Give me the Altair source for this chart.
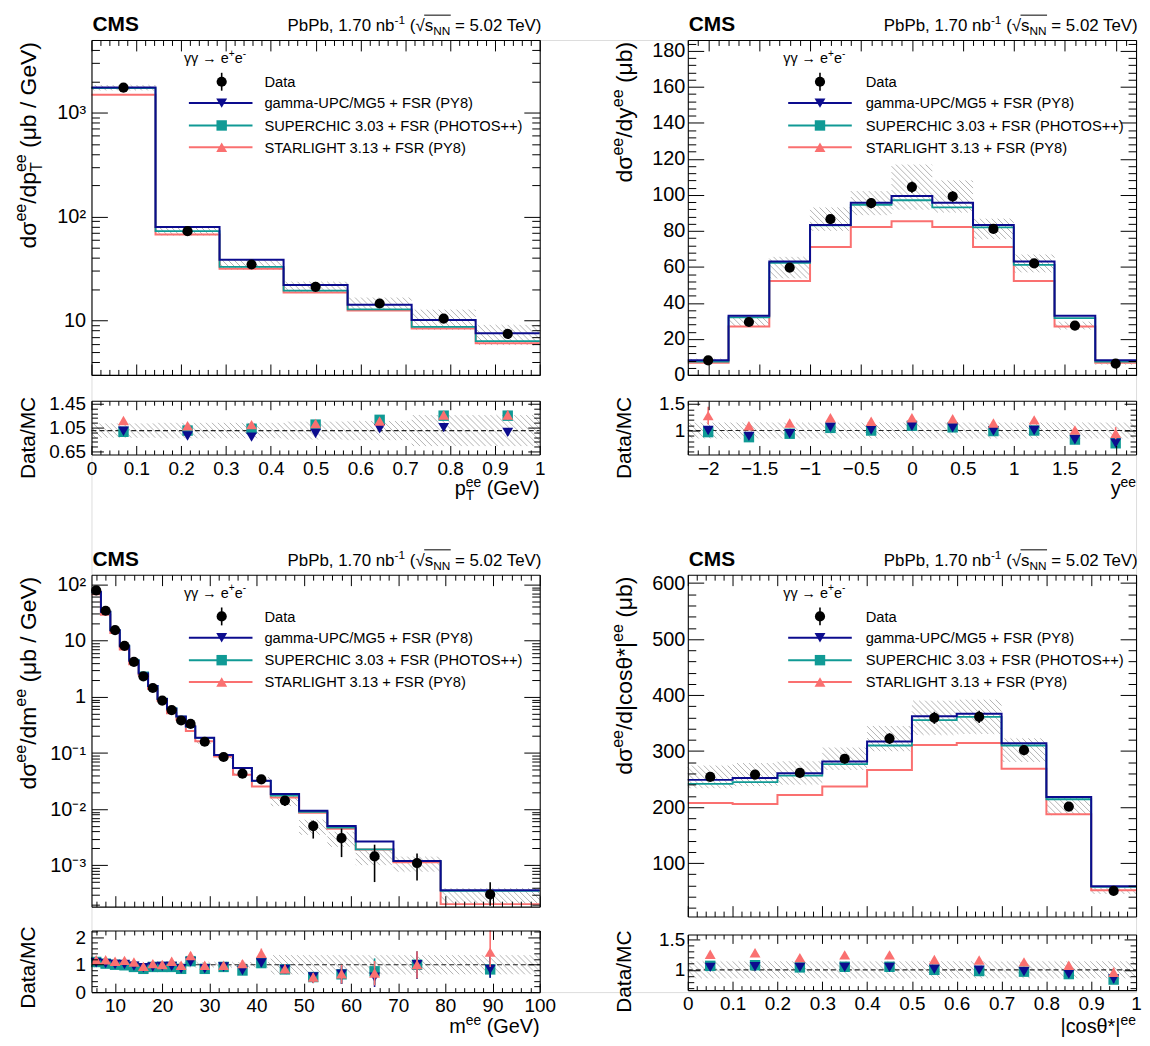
import math
import altair as alt
import pandas as pd

# ---------------- data: (a) pT ----------------
pt_edges = [0.0, 0.142857, 0.285714, 0.428571, 0.571429, 0.714286, 0.857143, 1.0]
pt_centers = [0.0714, 0.2143, 0.3571, 0.5, 0.6429, 0.7857, 0.9286]
pt_data = [1740, 72.4, 34.6, 21.1, 14.6, 10.45, 7.45]
pt_err = [0.02, 0.03, 0.03, 0.03, 0.04, 0.05, 0.06]
pt_gupc = [1742, 79.3, 38.4, 22.0, 14.2, 10.1, 7.55]
pt_sc = [1725, 72.4, 32.9, 19.4, 12.8, 8.69, 6.33]
pt_sl = [1490, 67.3, 31.5, 18.6, 12.5, 8.38, 6.05]
pt_unc = [0.06, 0.09, 0.11, 0.12, 0.14, 0.22, 0.22]
pt_runc = [0.12, 0.13, 0.13, 0.15, 0.16, 0.26, 0.26]
pt_r_gupc = [0.99, 0.91, 0.89, 0.95, 1.03, 1.05, 0.97]
pt_r_sc = [0.98, 1.0, 1.03, 1.10, 1.18, 1.25, 1.25]
pt_r_sl = [1.17, 1.08, 1.10, 1.12, 1.16, 1.26, 1.26]

# ---------------- data: (b) rapidity ----------------
y_edges = [-2.2, -1.8, -1.4, -1.0, -0.6, -0.2, 0.2, 0.6, 1.0, 1.4, 1.8, 2.2]
y_centers = [-2.0, -1.6, -1.2, -0.8, -0.4, 0.0, 0.4, 0.8, 1.2, 1.6, 2.0]
y_data = [8.1, 29.4, 59.6, 86.5, 95.4, 104.3, 99.1, 81.1, 61.9, 27.4, 6.3]
y_err = [0.06, 0.04, 0.03, 0.03, 0.03, 0.03, 0.03, 0.03, 0.03, 0.04, 0.07]
y_gupc = [8.1, 32.8, 63.0, 83.3, 95.6, 99.3, 95.6, 83.3, 63.0, 32.8, 8.1]
y_sc = [7.4, 31.9, 62.2, 83.0, 94.5, 97.0, 93.0, 81.9, 61.1, 31.5, 7.4]
y_sl = [6.7, 26.9, 52.2, 71.1, 82.2, 85.4, 82.2, 71.1, 52.2, 26.9, 6.7]
y_unc = [0.10, 0.08, 0.10, 0.075, 0.07, 0.12, 0.09, 0.07, 0.08, 0.08, 0.10]
y_runc = [0.15, 0.15, 0.15, 0.15, 0.15, 0.15, 0.15, 0.15, 0.15, 0.15, 0.15]
y_r_gupc = [1.0, 0.89, 0.94, 1.06, 1.01, 1.08, 1.05, 0.99, 1.0, 0.825, 0.76]
y_r_sc = [0.97, 0.875, 0.94, 1.05, 1.0, 1.09, 1.06, 0.99, 1.0, 0.83, 0.76]
y_r_sl = [1.28, 1.09, 1.14, 1.24, 1.175, 1.24, 1.22, 1.14, 1.2, 1.01, 0.95]
y_r_err = [0.13, 0.04, 0.03, 0.03, 0.03, 0.03, 0.03, 0.03, 0.03, 0.05, 0.12]

# ---------------- data: (c) mass ----------------
m_edges = [5, 7, 9, 11, 13, 15, 17, 19, 21, 23, 25, 27, 31, 35, 39, 43, 49, 55, 61, 69, 79, 100]
m_centers = [6, 8, 10, 12, 14, 16, 18, 20, 22, 24, 26, 29, 33, 37, 41, 46, 52, 58, 65, 74, 89.5]
m_data = [79, 34.2, 15.5, 8.1, 4.2, 2.32, 1.44, 0.86, 0.58, 0.38, 0.33, 0.159, 0.085, 0.043,
          0.034, 0.0142, 0.0050, 0.00305, 0.00144, 0.0011, 0.000303]
m_err_up = [0.04, 0.04, 0.05, 0.05, 0.05, 0.05, 0.06, 0.06, 0.07, 0.08, 0.08, 0.1, 0.1, 0.12,
            0.12, 0.2, 0.26, 0.48, 0.62, 0.48, 0.65]
m_err_dn = [0.04, 0.04, 0.05, 0.05, 0.05, 0.05, 0.06, 0.06, 0.07, 0.08, 0.08, 0.1, 0.1, 0.12,
            0.12, 0.2, 0.40, 0.54, 0.65, 0.51, 0.37]
m_gupc = [73.8, 32.9, 15.3, 8.0, 4.42, 2.61, 1.57, 0.915, 0.617, 0.447, 0.30, 0.187, 0.092, 0.054,
          0.032, 0.0186, 0.0094, 0.0050, 0.00266, 0.00119, 0.00036]
m_sc = [71.8, 32.9, 15.5, 8.27, 4.57, 2.73, 1.57, 0.935, 0.63, 0.447, 0.292, 0.187, 0.092, 0.054,
        0.032, 0.0175, 0.0090, 0.0047, 0.00192, 0.00119, 0.00035]
m_sl = [67, 29, 13.7, 7.0, 3.8, 2.47, 1.38, 0.85, 0.51, 0.39, 0.246, 0.162, 0.087, 0.041,
        0.0254, 0.0162, 0.0086, 0.0045, 0.00192, 0.00114, 0.000204]
m_unc = [0.06, 0.06, 0.06, 0.06, 0.06, 0.06, 0.06, 0.07, 0.07, 0.07, 0.07, 0.08, 0.08, 0.1,
         0.1, 0.2, 0.3, 0.3, 0.3, 0.3, 0.3]
m_runc = [0.1, 0.1, 0.1, 0.1, 0.1, 0.1, 0.1, 0.1, 0.1, 0.1, 0.1, 0.1, 0.1, 0.1, 0.1,
          0.35, 0.35, 0.35, 0.35, 0.35, 0.35]
m_r_gupc = [1.07, 1.04, 1.01, 1.01, 0.95, 0.89, 0.92, 0.94, 0.94, 0.85, 1.1, 0.85, 0.92, 0.79,
            1.06, 0.83, 0.55, 0.65, 0.54, 1.0, 0.83]
m_r_sc = [1.1, 1.04, 1.0, 0.98, 0.92, 0.85, 0.92, 0.92, 0.92, 0.85, 1.13, 0.85, 0.92, 0.79,
          1.06, 0.83, 0.55, 0.65, 0.76, 1.0, 0.83]
m_r_sl = [1.18, 1.18, 1.13, 1.16, 1.1, 0.94, 1.04, 1.01, 1.13, 0.98, 1.34, 0.98, 0.98, 1.04,
          1.42, 0.85, 0.55, 0.67, 0.7, 1.01, 1.46]

# ---------------- data: (d) |cos theta*| ----------------
c_edges = [0.0, 0.1, 0.2, 0.3, 0.4, 0.5, 0.6, 0.7, 0.8, 0.9, 1.0]
c_centers = [0.05, 0.15, 0.25, 0.35, 0.45, 0.55, 0.65, 0.75, 0.85, 0.95]
c_data = [253.9, 258, 261, 286.3, 322.3, 359.4, 361.2, 301.7, 201, 50.5]
c_err = [0.03, 0.03, 0.03, 0.03, 0.03, 0.03, 0.03, 0.03, 0.04, 0.08]
c_gupc = [248.6, 252.1, 260.4, 281.6, 317, 362.4, 366.5, 314, 218, 58.7]
c_sc = [241.5, 244.5, 256.3, 276.9, 310, 355.3, 361.2, 310, 214, 57.5]
c_sl = [207.3, 205.5, 221.5, 236.8, 266.3, 311, 314.6, 268.6, 187.3, 51.7]
c_unc = [0.08, 0.08, 0.08, 0.07, 0.07, 0.085, 0.085, 0.07, 0.075, 0.11]
c_runc = [0.14, 0.14, 0.14, 0.14, 0.14, 0.14, 0.14, 0.14, 0.14, 0.14]
c_r_gupc = [1.04, 1.05, 1.04, 1.04, 1.04, 1.01, 0.995, 0.97, 0.93, 0.85]
c_r_sc = [1.065, 1.076, 1.04, 1.05, 1.05, 1.0, 0.98, 0.97, 0.93, 0.84]
c_r_sl = [1.255, 1.28, 1.2, 1.245, 1.245, 1.17, 1.16, 1.13, 1.076, 0.96]

legend_labels = ["Data", "gamma-UPC/MG5 + FSR (PY8)", "SUPERCHIC 3.03 + FSR (PHOTOS++)",
                 "STARLIGHT 3.13 + FSR (PY8)"]

# ---------------- style ----------------
VW, VH = 1051, 958
FONT = "Liberation Sans"
NAVY = "#0c0c8e"
TEAL = "#109a95"
SALMON = "#fa7070"
HATCH = "#a0a0a0"

WT = {' ': .278, '!': .278, '(': .333, ')': .333, '*': .389, '+': .584, ',': .278, '-': .333,
      '.': .278, '/': .278, '=': .584, '|': .26, 'A': .667, 'B': .667, 'C': .722, 'D': .722,
      'E': .667, 'F': .611, 'G': .778, 'H': .722, 'I': .278, 'J': .5, 'K': .667, 'L': .556,
      'M': .833, 'N': .722, 'O': .778, 'P': .667, 'Q': .778, 'R': .722, 'S': .667, 'T': .611,
      'U': .722, 'V': .667, 'W': .944, 'X': .667, 'Y': .667, 'Z': .611, 'a': .556, 'b': .556,
      'c': .5, 'd': .556, 'e': .556, 'f': .278, 'g': .556, 'h': .556, 'i': .222, 'j': .222,
      'k': .5, 'l': .222, 'm': .833, 'n': .556, 'o': .556, 'p': .556, 'q': .556, 'r': .333,
      's': .5, 't': .278, 'u': .556, 'v': .5, 'w': .722, 'x': .5, 'y': .5, 'z': .5,
      'σ': .62, 'μ': .577, 'θ': .556, 'γ': .5, '√': .549, '→': 1.0}


def tw(s, fs):
    return sum(WT.get(ch, .556) for ch in s) * fs


texts = []   # normal texts
btexts = []  # bold texts
prules = []  # pixel rules


def rich(segs, fs, angle=0, x=None, y=None, end=None, col="black"):
    """segs: list of ('n', t) | ('sup', t) | ('sub', t) | ('subsup', sub, sup)."""
    SF = 0.7
    items = []
    off = 0.0
    spans = []

    def add(t, o, sh, f):
        lead = len(t) - len(t.lstrip(' '))
        items.append((t.strip(' '), o + lead * WT[' '] * f, sh, f))

    for s in segs:
        k = s[0]
        if k == 'n':
            add(s[1], off, 0.0, fs); w = tw(s[1], fs)
        elif k == 'sup':
            add(s[1], off, -0.42 * fs, fs * SF); w = tw(s[1], fs * SF)
        elif k == 'sub':
            add(s[1], off, 0.25 * fs, fs * SF); w = tw(s[1], fs * SF)
        else:
            add(s[1], off, 0.25 * fs, fs * SF)
            add(s[2], off, -0.42 * fs, fs * SF)
            w = max(tw(s[1], fs * SF), tw(s[2], fs * SF))
        spans.append((off, off + w))
        off += w
    total = off
    out_spans = []
    if angle == 0:
        x0 = x if end is None else end - total
        for t, o, sh, f in items:
            texts.append(dict(px=x0 + o, py=y + sh, txt=t, fs=f, ang=0, col=col))
        for a, b in spans:
            out_spans.append((x0 + a, x0 + b))
    else:
        y0 = y if end is None else end + total
        for t, o, sh, f in items:
            texts.append(dict(px=x + sh, py=y0 - o, txt=t, fs=f, ang=270, col=col))
        for a, b in spans:
            out_spans.append((y0 - a, y0 - b))
    return out_spans


def mkmap(dom, rng, log):
    if log:
        l0, l1 = math.log10(dom[0]), math.log10(dom[1])
        f = lambda v: rng[0] + (math.log10(v) - l0) / (l1 - l0) * (rng[1] - rng[0])
        inv = lambda p: 10 ** (l0 + (p - rng[0]) / (rng[1] - rng[0]) * (l1 - l0))
    else:
        f = lambda v: rng[0] + (v - dom[0]) / (dom[1] - dom[0]) * (rng[1] - rng[0])
        inv = lambda p: dom[0] + (p - rng[0]) / (rng[1] - rng[0]) * (dom[1] - dom[0])
    return f, inv


def hatch_segments(fx, ix, fy, iy, xlo, xhi, ylo, yhi, step=6.0):
    px0, px1 = fx(xlo), fx(xhi)
    pyt, pyb = fy(yhi), fy(ylo)
    res = []
    kmin = math.ceil((pyt - px1) / step)
    kmax = math.floor((pyb - px0) / step)
    for k in range(kmin, kmax + 1):
        c = k * step
        a = max(px0, pyt - c)
        b = min(px1, pyb - c)
        if b - a > 0.4:
            res.append(dict(x=ix(a), y=iy(a + c), x2=ix(b), y2=iy(b + c)))
    return res


def rng_steps(a, b, st, skip=()):
    out = []
    n = int(round((b - a) / st))
    for i in range(n + 1):
        v = round(a + i * st, 6)
        if all(abs(v - s) > 1e-9 for s in skip):
            out.append(v)
    return out


def log_minor(lo, hi):
    out = []
    e = math.floor(math.log10(lo))
    while 10 ** e <= hi:
        for m in range(2, 10):
            v = round(m * 10 ** e, 12)
            if lo <= v <= hi:
                out.append(v)
        e += 1
    return out


layers = []


def tick_axis(orient, offset, values, size, domain):
    return alt.Axis(orient=orient, offset=offset, values=values, labels=False, ticks=True,
                    tickSize=size, domain=domain, grid=False, title=None, tickColor="black",
                    domainColor="black", tickWidth=1, domainWidth=1.1, zindex=2)


def label_axis(orient, offset, values, fs, pad, expr):
    return alt.Axis(orient=orient, offset=offset, values=values, labels=True, ticks=False,
                    tickSize=0, domain=False, grid=False, title=None, labelFont=FONT,
                    labelFontSize=fs, labelColor="black", labelPadding=pad, labelOverlap=False,
                    labelFlush=False, labelExpr=expr, zindex=2)


def build_panel(p, edges, centers, data, err_up, err_dn, gupc, sc, sl, unc, runc, rg, rsc, rsl,
                rerr_sl=None):
    x0, W = p['x0'], p['W']
    xsc = lambda: alt.Scale(domain=p['xdom'], range=[x0, x0 + W], nice=False, zero=False)
    if p['log']:
        ysc = lambda: alt.Scale(type='log', domain=p['ydom'], range=[p['mb'], p['mt']], nice=False)
    else:
        ysc = lambda: alt.Scale(domain=p['ydom'], range=[p['mb'], p['mt']], nice=False, zero=False)
    rsc_ = lambda: alt.Scale(domain=p['rdom'], range=[p['rb'], p['rt']], nice=False, zero=False)
    fx, ix = mkmap(p['xdom'], [x0, x0 + W], False)
    fy, iy = mkmap(p['ydom'], [p['mb'], p['mt']], p['log'])
    fr, ir = mkmap(p['rdom'], [p['rb'], p['rt']], False)

    def X(f='x'):
        return alt.X(f + ':Q', scale=xsc(), axis=None)

    def Y(f='y', ratio=False):
        return alt.Y(f + ':Q', scale=(rsc_() if ratio else ysc()), axis=None)

    # --- hatched band (main) ---
    segs = []
    for i in range(len(data)):
        lo = max(data[i] * (1 - unc[i]), p['ydom'][0])
        hi = min(data[i] * (1 + unc[i]), p['ydom'][1])
        segs += hatch_segments(fx, ix, fy, iy, edges[i], edges[i + 1], lo, hi)
    layers.append(alt.Chart(pd.DataFrame(segs)).mark_rule(color=HATCH, strokeWidth=0.8).encode(
        x=X(), x2='x2:Q', y=Y(), y2='y2:Q'))
    # --- hatched band (ratio) ---
    segs = []
    for i in range(len(data)):
        lo = max(1 - runc[i], p['rdom'][0])
        hi = min(1 + runc[i], p['rdom'][1])
        segs += hatch_segments(fx, ix, fr, ir, edges[i], edges[i + 1], lo, hi)
    layers.append(alt.Chart(pd.DataFrame(segs)).mark_rule(color=HATCH, strokeWidth=0.8).encode(
        x=X(), x2='x2:Q', y=Y(ratio=True), y2='y2:Q'))

    # --- MC step histograms ---
    for vals, col, sw in [(sl, SALMON, 2.0), (sc, TEAL, 1.8), (gupc, NAVY, 2.0)]:
        df = pd.DataFrame({'x': edges, 'y': list(vals) + [vals[-1]]})
        layers.append(alt.Chart(df).mark_line(interpolate='step-after', color=col,
                                              strokeWidth=sw).encode(x=X(), y=Y()))

    # --- data points with error bars ---
    df = pd.DataFrame({'x': centers, 'y': data,
                       'lo': [max(d * (1 - e), p['ydom'][0]) for d, e in zip(data, err_dn)],
                       'hi': [d * (1 + e) for d, e in zip(data, err_up)]})
    layers.append(alt.Chart(df).mark_rule(color='black', strokeWidth=1.6).encode(
        x=X(), y=Y('lo'), y2='hi:Q'))
    layers.append(alt.Chart(df).mark_point(shape='circle', filled=True, color='black', opacity=1,
                                           size=105).encode(x=X(), y=Y()))

    # --- ratio: dashed unity line ---
    layers.append(alt.Chart(pd.DataFrame({'x': [p['xdom'][0]], 'x2': [p['xdom'][1]], 'y': [1.0]}))
                  .mark_rule(color='#222222', strokeWidth=1.2, strokeDash=[5, 3])
                  .encode(x=X(), x2='x2:Q', y=Y(ratio=True)))
    # --- ratio points ---
    for vals, shape, col in [(rsc, 'square', TEAL), (rg, 'triangle-down', NAVY),
                             (rsl, 'triangle-up', SALMON)]:
        eu, ed = err_up, err_dn
        if shape == 'triangle-up' and rerr_sl is not None:
            eu, ed = rerr_sl, rerr_sl
        df = pd.DataFrame({'x': centers, 'y': vals,
                           'lo': [max(v * (1 - e), p['rdom'][0]) for v, e in zip(vals, ed)],
                           'hi': [min(v * (1 + e), p['rdom'][1]) for v, e in zip(vals, eu)]})
        layers.append(alt.Chart(df).mark_rule(color=col, strokeWidth=1.6).encode(
            x=X(), y=Y('lo', True), y2='hi:Q'))
        layers.append(alt.Chart(df).mark_point(shape=shape, filled=True, color=col, opacity=1,
                                               size=110 if shape == 'square' else 120)
                      .encode(x=X(), y=Y('y', True)))

    # --- frame / tick axes (holders) ---
    hd = pd.DataFrame({'x': [p['xdom'][0]], 'y': [p['ydom'][0]], 'r': [p['rdom'][0]]})

    def holder(xax, yax, ratio):
        enc_y = alt.Y(('r' if ratio else 'y') + ':Q', scale=(rsc_() if ratio else ysc()), axis=yax)
        return alt.Chart(hd).mark_point(opacity=0, size=1).encode(
            x=alt.X('x:Q', scale=xsc(), axis=xax), y=enc_y)

    XM, Xm = p['xmaj'], p['xmin']
    YM, Ym = p['ymaj'], p['ymin']
    RM, Rm = p['rmaj'], p['rmin']
    left_off = -(VW - x0)
    right_off = -(x0 + W)
    # main frame
    layers.append(holder(tick_axis('bottom', -(VH - p['mt']), XM, 11, True),
                         tick_axis('right', left_off, YM, 16, True), False))
    layers.append(holder(tick_axis('bottom', -(VH - p['mt']), Xm, 5.5, False),
                         tick_axis('right', left_off, Ym, 8, False), False))
    layers.append(holder(tick_axis('top', -p['mb'], XM, 11, True),
                         tick_axis('left', right_off, YM, 16, True), False))
    layers.append(holder(tick_axis('top', -p['mb'], Xm, 5.5, False),
                         tick_axis('left', right_off, Ym, 8, False), False))
    layers.append(holder(None, label_axis('left', -x0, YM, 20, p['ypad'], p['yexpr']), False))
    # ratio frame
    layers.append(holder(tick_axis('bottom', -(VH - p['rt']), XM, 9, True),
                         tick_axis('right', left_off, RM, 12, True), True))
    layers.append(holder(tick_axis('bottom', -(VH - p['rt']), Xm, 4.5, False),
                         tick_axis('right', left_off, Rm, 6, False), True))
    layers.append(holder(tick_axis('top', -p['rb'], XM, 9, True),
                         tick_axis('left', right_off, RM, 12, True), True))
    layers.append(holder(tick_axis('top', -p['rb'], Xm, 4.5, False),
                         tick_axis('left', right_off, Rm, 6, False), True))
    layers.append(holder(label_axis('bottom', -(VH - p['rb']), XM, 19, 5, p['xexpr']),
                         label_axis('left', -x0, RM, 19, p['ypad'], "replace('' + datum.value, '-', '\u2212')"),
                         True))

    # --- texts: header, titles, legend ---
    mt = p['mt']
    btexts.append(dict(px=x0 + 1, py=mt - 9, txt="CMS", fs=21, ang=0, col="black"))
    sp = rich([('n', 'PbPb, 1.70 nb'), ('sup', '-1'), ('n', ' ('), ('n', '\u221a'), ('n', 's'),
               ('sub', 'NN'), ('n', ' = 5.02 TeV)')], 17, 0, y=mt - 9, end=x0 + 455)
    prules.append(dict(x=sp[3][0] + 8.8, x2=sp[5][1] + 0.5, y=mt - 9 - 16, y2=mt - 9 - 16,
                       col='black', sw=1.0))
    # y title main
    rich(p['ytitle'], 23, 270, x=x0 - 56, end=mt + 2)
    # ratio y title
    rich([('n', 'Data/MC')], 21, 270, x=x0 - 57, end=p['rt'] - 4)
    # x title
    rich(p['xtitle'], 20, 0, y=p['rb'] + p.get('xtoff', 41), end=x0 + W)
    # legend
    L = p['leg']
    rich([('n', '\u03b3\u03b3 \u2192 e'), ('sup', '+'), ('n', 'e'), ('sup', '-')], 14.5, 0,
         x=x0 + L['g'], y=mt + 23)
    ys_ = [mt + 42, mt + 63.5, mt + 86, mt + 108]
    for lab, yy in zip(legend_labels, ys_):
        texts.append(dict(px=x0 + L['t'], py=yy + 5.3, txt=lab, fs=14.8, ang=0, col="black"))
    prules.append(dict(x=x0 + L['m'], x2=x0 + L['m'], y=ys_[0] - 9, y2=ys_[0] + 9, col='black', sw=1.6))
    for yy, col in zip(ys_[1:], [NAVY, TEAL, SALMON]):
        prules.append(dict(x=x0 + L['l0'], x2=x0 + L['l1'], y=yy, y2=yy, col=col, sw=2.0))
    return [(x0 + L['m'], ys_[0], 'circle', 'black'), (x0 + L['m'], ys_[1], 'triangle-down', NAVY),
            (x0 + L['m'], ys_[2], 'square', TEAL), (x0 + L['m'], ys_[3], 'triangle-up', SALMON)]


LEG_L = dict(g=93, m=131, l0=98, l1=162, t=174)
LEG_R = dict(g=96, m=133, l0=101, l1=165, t=179)
MINUS = "replace('' + datum.value, '-', '\u2212')"

PA = dict(x0=0, W=451, mt=0, mb=337, rt=363, rb=417, xdom=[0, 1], log=True, ydom=[3, 5000],
          rdom=[0.6, 1.5], xmaj=rng_steps(0, 1, 0.1), xmin=rng_steps(0, 1, 0.02, rng_steps(0, 1, 0.1)),
          ymaj=[10, 100, 1000], ymin=log_minor(3, 5000),
          rmaj=[0.65, 1.05, 1.45], rmin=rng_steps(0.65, 1.45, 0.08, [0.65, 1.05, 1.45]), ypad=6,
          yexpr="datum.value > 500 ? '10\u00b3' : datum.value > 50 ? '10\u00b2' : '10'",
          xexpr=MINUS, leg=LEG_L,
          ytitle=[('n', 'd\u03c3'), ('sup', 'ee'), ('n', '/dp'), ('subsup', 'T', 'ee'),
                  ('n', ' (\u03bcb / GeV)')],
          xtitle=[('n', 'p'), ('subsup', 'T', 'ee'), ('n', ' (GeV)')])
PB = dict(x0=600, W=451, mt=0, mb=337, rt=363, rb=417, xdom=[-2.2, 2.2], log=False, ydom=[0, 186],
          rdom=[0.55, 1.56], xmaj=rng_steps(-2, 2, 0.5),
          xmin=rng_steps(-2.2, 2.2, 0.1, rng_steps(-2, 2, 0.5)),
          ymaj=rng_steps(0, 180, 20), ymin=rng_steps(0, 184, 4, rng_steps(0, 180, 20)),
          rmaj=[1, 1.5], rmin=rng_steps(0.6, 1.5, 0.1, [1.0, 1.5]), ypad=3,
          yexpr="'' + datum.value", xexpr=MINUS, leg=LEG_R,
          ytitle=[('n', 'd\u03c3'), ('sup', 'ee'), ('n', '/dy'), ('sup', 'ee'), ('n', ' (\u03bcb)')],
          xtitle=[('n', 'y'), ('sup', 'ee')])
PC = dict(x0=0, W=451, mt=538, mb=872, rt=896, rb=958, xdom=[5, 100], log=True, ydom=[1.84e-4, 150],
          rdom=[0, 2.25], xmaj=rng_steps(10, 100, 10), xmin=rng_steps(6, 98, 2, rng_steps(10, 100, 10)),
          ymaj=[0.001, 0.01, 0.1, 1, 10, 100], ymin=log_minor(1.84e-4, 150),
          rmaj=[0, 1, 2], rmin=rng_steps(0, 2.2, 0.2, [0, 1, 2]), ypad=6,
          yexpr=("datum.value < 0.002 ? '10\u207b\u00b3' : datum.value < 0.02 ? '10\u207b\u00b2' : "
                 "datum.value < 0.2 ? '10\u207b\u00b9' : datum.value < 2 ? '1' : "
                 "datum.value < 20 ? '10' : '10\u00b2'"),
          xexpr=MINUS, leg=LEG_L,
          ytitle=[('n', 'd\u03c3'), ('sup', 'ee'), ('n', '/dm'), ('sup', 'ee'),
                  ('n', ' (\u03bcb / GeV)')],
          xtitle=[('n', 'm'), ('sup', 'ee'), ('n', ' (GeV)')])
PD = dict(x0=600, W=451, mt=538, mb=882, rt=900, rb=956, xdom=[0, 1], log=False, ydom=[4.5, 615],
          rdom=[0.667, 1.58], xmaj=rng_steps(0, 1, 0.1), xmin=rng_steps(0, 1, 0.02, rng_steps(0, 1, 0.1)),
          ymaj=rng_steps(100, 600, 100), ymin=rng_steps(20, 600, 20, rng_steps(100, 600, 100)),
          rmaj=[1, 1.5], rmin=rng_steps(0.7, 1.5, 0.1, [1.0, 1.5]), ypad=3,
          yexpr="'' + datum.value", xexpr=MINUS, leg=LEG_R, xtoff=43,
          ytitle=[('n', 'd\u03c3'), ('sup', 'ee'), ('n', '/d|cos\u03b8*|'), ('sup', 'ee'),
                  ('n', ' (\u03bcb)')],
          xtitle=[('n', '|cos\u03b8*|'), ('sup', 'ee')])

legpts = []
legpts += build_panel(PA, pt_edges, pt_centers, pt_data, pt_err, pt_err, pt_gupc, pt_sc, pt_sl,
                      pt_unc, pt_runc, pt_r_gupc, pt_r_sc, pt_r_sl)
legpts += build_panel(PB, y_edges, y_centers, y_data, y_err, y_err, y_gupc, y_sc, y_sl,
                      y_unc, y_runc, y_r_gupc, y_r_sc, y_r_sl, y_r_err)
legpts += build_panel(PC, m_edges, m_centers, m_data, m_err_up, m_err_dn, m_gupc, m_sc, m_sl,
                      m_unc, m_runc, m_r_gupc, m_r_sc, m_r_sl)
legpts += build_panel(PD, c_edges, c_centers, c_data, c_err, c_err, c_gupc, c_sc, c_sl,
                      c_unc, c_runc, c_r_gupc, c_r_sc, c_r_sl)

PX = lambda f: alt.X(f + ':Q', scale=None, axis=None)
PY = lambda f: alt.Y(f + ':Q', scale=None, axis=None)

# pixel-placed legend lines / overlines
layers.append(alt.Chart(pd.DataFrame(prules)).mark_rule().encode(
    x=PX('x'), x2='x2:Q', y=PY('y'), y2='y2:Q',
    color=alt.Color('col:N', scale=None, legend=None),
    strokeWidth=alt.StrokeWidth('sw:Q', scale=None, legend=None)))
# legend markers
for shape, col, size in [('circle', 'black', 105), ('triangle-down', NAVY, 120),
                         ('square', TEAL, 110), ('triangle-up', SALMON, 120)]:
    rows = [dict(px=a, py=b) for a, b, s, c in legpts if s == shape]
    layers.append(alt.Chart(pd.DataFrame(rows)).mark_point(shape=shape, filled=True, color=col,
                                                           opacity=1, size=size)
                  .encode(x=PX('px'), y=PY('py')))


def text_layer(rows, weight):
    return alt.Chart(pd.DataFrame(rows)).mark_text(align='left', baseline='alphabetic', font=FONT,
                                                    fontWeight=weight).encode(
        x=PX('px'), y=PY('py'), text='txt:N',
        size=alt.Size('fs:Q', scale=None, legend=None),
        angle=alt.Angle('ang:Q', scale=None, legend=None),
        color=alt.Color('col:N', scale=None, legend=None))


layers.append(text_layer(texts, 'normal'))
layers.append(text_layer(btexts, 'bold'))

chart = alt.layer(*layers).resolve_scale(x='independent', y='independent').properties(
    width=VW, height=VH, autosize=alt.AutoSizeParams(type='none'),
    padding={'left': 84, 'top': 29, 'right': 6, 'bottom': 45}
).configure_view(stroke=None).configure(background='white')

chart.save("out.html", embed_options={"renderer": "svg", "actions": False})
